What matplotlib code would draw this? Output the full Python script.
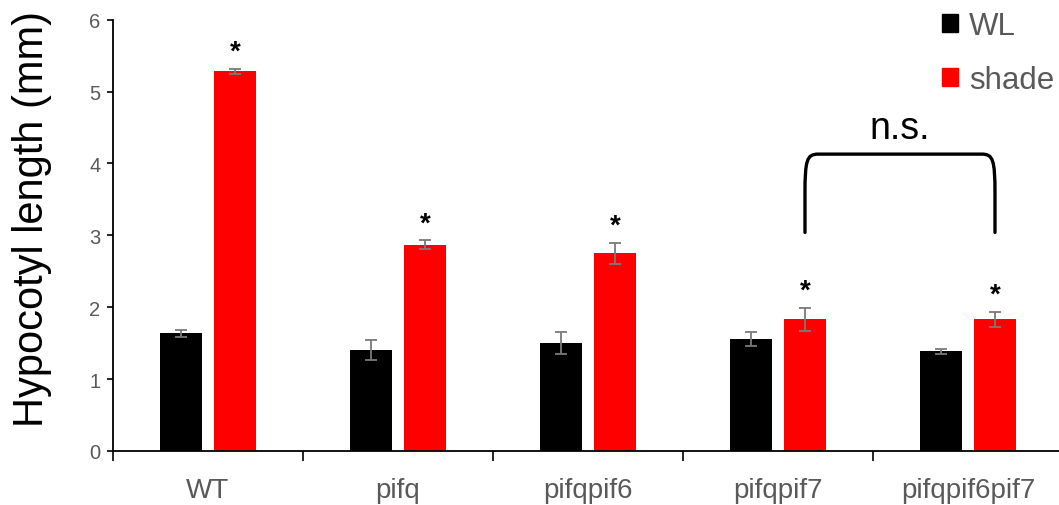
import matplotlib
matplotlib.use("Agg")
import matplotlib.pyplot as plt
from matplotlib.path import Path
from matplotlib.patches import PathPatch, Patch
import numpy as np

plt.rcParams['font.family'] = ['Liberation Sans', 'DejaVu Sans']

categories = ["WT", "pifq", "pifqpif6", "pifqpif7", "pifqpif6pif7"]
wl_values = [1.64, 1.41, 1.50, 1.56, 1.39]
wl_errors = [0.05, 0.14, 0.155, 0.10, 0.035]
shade_values = [5.28, 2.87, 2.75, 1.83, 1.83]
shade_errors = [0.04, 0.06, 0.15, 0.16, 0.11]
significant = [True, True, True, True, True]
series_labels = ["WL", "shade"]
ns_label = "n.s."
ylabel = "Hypocotyl length (mm)"
yticks = [0, 1, 2, 3, 4, 5, 6]

W, H = 1059, 506
fig = plt.figure(figsize=(W / 100, H / 100), dpi=100)
ax = fig.add_axes([113 / W, 1 - 452 / H, 950 / W, (452 - 20.7) / H])

x = np.arange(len(categories))
off = 0.142
bw = 0.22
gray = "#595959"
ecol = "#7a7a7a"

ax.bar(x - off, wl_values, bw, color="black", label=series_labels[0], zorder=2)
ax.bar(x + off, shade_values, bw, color="#ff0000", label=series_labels[1], zorder=2)
ax.errorbar(x - off, wl_values, yerr=wl_errors, fmt="none", ecolor=ecol,
            elinewidth=1.3, capsize=4, capthick=1.3, zorder=3)
ax.errorbar(x + off, shade_values, yerr=shade_errors, fmt="none", ecolor=ecol,
            elinewidth=1.3, capsize=4, capthick=1.3, zorder=3)

for xi, v, e, s in zip(x, shade_values, shade_errors, significant):
    if s:
        ax.text(xi + off, v + e + 0.14, "*", ha="center", va="baseline",
                fontsize=20, color="black", fontweight="bold")

# n.s. bracket between pifqpif7 and pifqpif6pif7 shade bars
x1, x2 = 3 + off, 4 + off
yb, yt = 3.04, 4.13
dx, dy = 0.07, 0.55
verts = [(x1, yb), (x1, yt - dy), (x1, yt - 0.08), (x1 + 0.01, yt), (x1 + dx, yt),
         (x2 - dx, yt), (x2 - 0.01, yt), (x2, yt - 0.08), (x2, yt - dy), (x2, yb)]
codes = [Path.MOVETO, Path.LINETO, Path.CURVE4, Path.CURVE4, Path.CURVE4,
         Path.LINETO, Path.CURVE4, Path.CURVE4, Path.CURVE4, Path.LINETO]
ax.add_patch(PathPatch(Path(verts, codes), fill=False, lw=2.4, color="black",
                       capstyle="round", joinstyle="round", zorder=4))
ax.text((x1 + x2) / 2, 4.36, ns_label, ha="center", va="baseline",
        fontsize=27, color="black")

ax.set_xlim(-0.5, len(categories) - 0.5)
ax.set_ylim(0, 6)
ax.set_yticks(yticks)
ax.tick_params(axis="y", direction="out", length=4, width=1.2, colors="black",
               labelcolor=gray, labelsize=14.5, pad=5)
ax.set_xticks(np.arange(-0.5, len(categories) - 0.4, 1.0))
ax.set_xticklabels([])
ax.tick_params(axis="x", which="major", direction="out", length=7, width=1.2)
ax.set_xticks(x, minor=True)
ax.set_xticklabels(categories, minor=True)
ax.tick_params(axis="x", which="minor", length=0, labelsize=20, labelcolor=gray, pad=19)

for side in ["top", "right"]:
    ax.spines[side].set_visible(False)
for side in ["left", "bottom"]:
    ax.spines[side].set_linewidth(1.3)

ax.set_ylabel(ylabel, fontsize=30, color="black")
ax.yaxis.set_label_coords(-0.064, 0.54)

handles = [Patch(color="black"), Patch(color="#ff0000")]
leg = fig.legend(handles, series_labels, loc="upper right", bbox_to_anchor=(1.0, 0.985),
                 frameon=False, fontsize=22.5, handlelength=0.52, handleheight=0.52,
                 handletextpad=0.35, labelspacing=0.75, borderaxespad=0.0, borderpad=0.15)
for t in leg.get_texts():
    t.set_color(gray)

fig.savefig("out.png", dpi=100)
